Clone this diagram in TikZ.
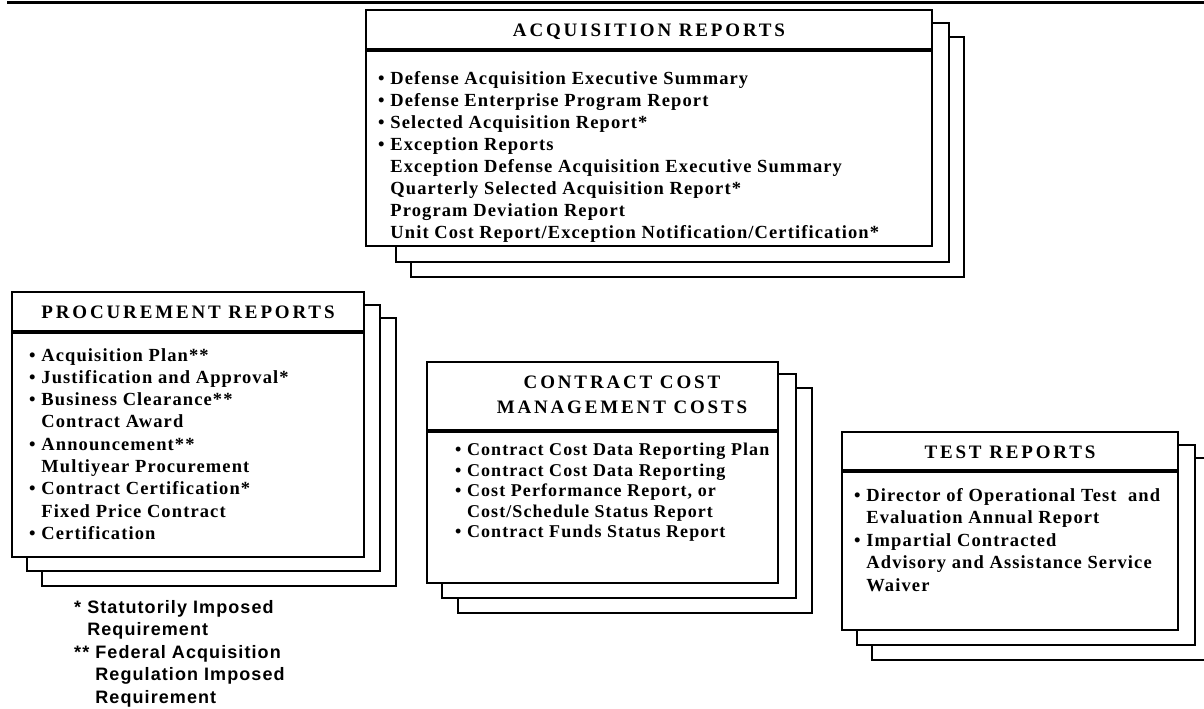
\documentclass[tikz,border=0pt]{standalone}
\usepackage{fontspec}
\setmainfont{Liberation Serif}
\newfontfamily\headfont[LetterSpace=15]{Liberation Serif}
\newfontfamily\itemfont[LetterSpace=6]{Liberation Serif}
\newfontfamily\notefont[LetterSpace=6]{Liberation Sans}
\newcommand{\subline}{\hphantom{•\ }}
\tikzset{
  front/.style={draw, line width=2bp},
  shadow/.style={line width=2bp},
  bar/.style={line width=3.5bp},
  title/.style={anchor=base, inner sep=0pt, align=center,
    font=\headfont\bfseries\fontsize{19bp}{25bp}\selectfont},
  items/.style={anchor=north west, inner sep=0pt, align=left,
    font=\itemfont\bfseries\fontsize{18.5bp}{#1}\selectfont},
  items/.default=22bp,
  note/.style={anchor=north west, inner sep=0pt, align=left,
    font=\notefont\bfseries\fontsize{18bp}{22.5bp}\selectfont}
}

\begin{document}
\begin{tikzpicture}[x=1bp, y=-1bp]
\useasboundingbox (0,0) rectangle (1204,709);
% Rule
    \draw[line width=3bp] (7,3) -- (1204,3);
% Acquisition reports
    \draw[shadow] (932,23) -- (949,23) -- (949,262) -- (396,262) -- (396,246);
    \draw[shadow] (949,37) -- (964,37) -- (964,277) -- (411,277) -- (411,262);
    \draw[front] (366,10) rectangle (932,246);
    \draw[bar] (366,50) -- (932,50);
    \node[title] (acqtitle) at (649,37) {ACQUISITION REPORTS};
    \node[items] (acqitems) at (378,71) {• Defense Acquisition Executive Summary\\
      • Defense Enterprise Program Report\\
      • Selected Acquisition Report*\\
      • Exception Reports\\
      \subline Exception Defense Acquisition Executive Summary\\
      \subline Quarterly Selected Acquisition Report*\\
      \subline Program Deviation Report\\
      \subline Unit Cost Report/Exception Notification/Certification*};
% Procurement reports
    \draw[shadow] (364,305) -- (380,305) -- (380,571) -- (27,571) -- (27,557);
    \draw[shadow] (380,318) -- (396,318) -- (396,586) -- (42,586) -- (42,571);
    \draw[front] (12,292) rectangle (364,557);
    \draw[bar] (12,332) -- (364,332);
    \node[title] (proctitle) at (188,318) {PROCUREMENT REPORTS};
    \node[items=22.3bp] (procitems) at (29,348) {• Acquisition Plan**\\
      • Justification and Approval*\\
      • Business Clearance**\\
      \subline Contract Award\\
      • Announcement**\\
      \subline Multiyear Procurement\\
      • Contract Certification*\\
      \subline Fixed Price Contract\\
      • Certification};
% Contract cost management costs
    \draw[shadow] (778,374) -- (796,374) -- (796,598) -- (442,598) -- (442,583);
    \draw[shadow] (796,388) -- (812,388) -- (812,613) -- (458,613) -- (458,598);
    \draw[front] (427,362) rectangle (778,583);
    \draw[bar] (427,431) -- (778,431);
    \node[title] (costtitle) at (622,413) {CONTRACT COST\\ MANAGEMENT COSTS};
    \node[items, font=\itemfont\bfseries\fontsize{18bp}{20.5bp}\selectfont] (costitems) at (455,443) {• Contract Cost Data Reporting Plan\\
      • Contract Cost Data Reporting\\
      • Cost Performance Report, or\\
      \subline Cost/Schedule Status Report\\
      • Contract Funds Status Report};
% Test reports
    \draw[shadow] (1178,445) -- (1195,445) -- (1195,645) -- (857,645) -- (857,630);
    \draw[shadow] (1195,458) -- (1212,458) -- (1212,660) -- (872,660) -- (872,645);
    \draw[front] (842,432) rectangle (1178,630);
    \draw[bar] (842,471) -- (1178,471);
    \node[title] (testtitle) at (1010,458) {TEST REPORTS};
    \node[items=22.5bp] (testitems) at (854,488) {• Director of Operational Test\ \ and\\
      \subline Evaluation Annual Report\\
      • Impartial Contracted\\
      \subline Advisory and Assistance Service\\
      \subline Waiver};
% Notes
    \node[note] (notes) at (74,600) {* Statutorily Imposed\\
      \hphantom{*\ }Requirement\\
      ** Federal Acquisition\\
      \hphantom{**\ }Regulation Imposed\\
      \hphantom{**\ }Requirement};
\end{tikzpicture}
\end{document}
